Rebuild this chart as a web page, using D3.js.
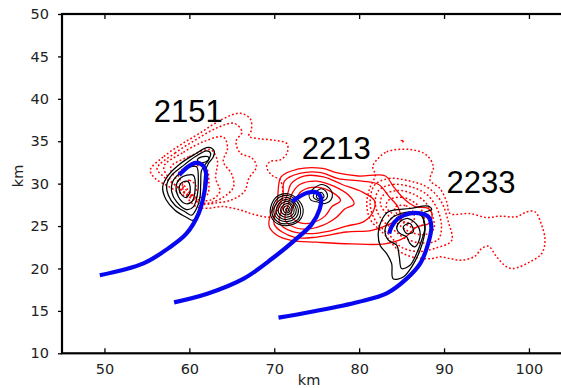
<!DOCTYPE html>
<html>
<head>
<meta charset="utf-8">
<script src="https://cdn.jsdelivr.net/npm/d3@7"></script>
<style>
  body { margin: 0; background: #fff; }
  svg { display: block; }
  .tick text { font-family: "DejaVu Sans", sans-serif; font-size: 14.5px; fill: #222; }
</style>
</head>
<body>
<div id="chart-area"></div>
<script>
// axis ticks (km)
const xTicks = [50, 60, 70, 80, 90, 100]
const yTicks = [10, 15, 20, 25, 30, 35, 40, 45, 50]

// cell labels: [name, x km, baseline y km]
const cellLabels = [
    ["2151", 55.8, 37.25],
    ["2213", 73.25, 32.95],
    ["2233", 90.3, 28.95]
]

// blue tracks (km)
const track2151 = [[49.45,19.2],[54.6,20.6],[57.55,22.4],[59.65,24.1],[61.1,26.5],[61.75,28.9],[61.97,31.2],[61.55,32.2],[60.7,32.45],[59.65,31.85],[58.8,31.0]]
const track2213 = [[58.2,16.0],[62.2,17.05],[66.4,18.8],[69.8,21.2],[72.5,23.4],[74.4,25.2],[75.35,27.0],[75.5,28.35],[75.0,28.95],[74.0,28.95],[73.0,28.5],[72.1,27.9]]
const track2233 = [[70.5,14.2],[74.4,14.9],[79.9,16.05],[83.3,17.1],[85.6,18.8],[87.2,20.6],[88.15,23.0],[88.5,24.9],[88.15,26.1],[87.2,26.5],[86.0,26.5],[84.6,25.9],[83.8,24.9],[83.55,24.1]]

// black contours (km)
const black2151 = [
    [[62.24,34.27],[62.91,33.87],[62.83,33.16],[62.24,32.38],[61.85,31.4],[61.73,30.02],[61.65,28.45],[61.34,27.07],[60.47,25.69],[59.69,26.01],[58.31,26.87],[57.25,28.13],[56.86,29.63],[57.53,31.0],[58.71,32.18],[60.47,33.36]],
    [[62.04,33.87],[62.51,33.56],[62.24,32.77],[61.45,31.59],[61.34,30.02],[61.26,28.45],[60.94,27.27],[60.28,26.28],[59.49,26.68],[58.31,27.46],[57.53,28.64],[57.33,29.82],[57.92,31.0],[59.1,31.98],[60.67,33.16]],
    [[60.86,31.98],[61.06,30.41],[60.94,28.64],[60.47,27.27],[59.69,26.95],[58.51,27.86],[57.92,29.04],[58.12,30.41],[59.1,31.4],[60.08,31.98]],
    [[60.47,31.0],[60.67,29.23],[60.28,27.86],[59.49,27.66],[58.71,28.45],[58.43,29.63],[58.9,30.61],[59.69,31.0]],
    [[59.88,30.22],[60.08,29.04],[59.61,28.37],[58.98,28.84],[58.82,29.71],[59.29,30.22]],
    [[60.94,32.77],[61.45,33.16],[62.24,33.16],[62.24,32.77],[61.45,32.46]]
]
const black2213 = [
    [[69.7,27.6],[70.5,28.6],[71.6,28.8],[72.7,28.2],[73.4,27.0],[73.0,25.7],[71.8,25.1],[70.5,25.2],[69.6,26.2]],
    [[69.9,27.5],[70.6,28.4],[71.6,28.6],[72.6,28.0],[73.1,26.9],[72.8,25.8],[71.7,25.3],[70.6,25.4],[69.8,26.3]],
    [[70.1,27.4],[70.8,28.2],[71.6,28.35],[72.4,27.8],[72.85,26.9],[72.55,26.0],[71.65,25.55],[70.75,25.65],[70.0,26.4]],
    [[70.35,27.35],[70.95,28.0],[71.6,28.1],[72.25,27.65],[72.6,26.9],[72.3,26.15],[71.6,25.8],[70.85,25.9],[70.25,26.5]],
    [[70.6,27.3],[71.1,27.8],[71.6,27.9],[72.1,27.5],[72.35,26.9],[72.1,26.3],[71.5,26.05],[70.95,26.15],[70.5,26.6]],
    [[70.85,27.2],[71.3,27.6],[71.7,27.65],[72.0,27.3],[72.1,26.85],[71.85,26.45],[71.4,26.3],[71.0,26.45],[70.75,26.8]],
    [[71.1,27.1],[71.45,27.4],[71.8,27.2],[71.85,26.8],[71.55,26.55],[71.15,26.7]],
    [[71.35,27.0],[71.6,27.1],[71.7,26.85],[71.45,26.75]],
    [[74.13,28.84],[75.58,29.9],[76.68,29.23],[76.76,28.25],[75.97,27.66],[75.0,27.86],[74.33,28.05]],
    [[74.6,28.6],[75.5,29.4],[76.17,28.96],[76.17,28.25],[75.39,27.97],[74.72,28.25]],
    [[74.99,28.64],[75.58,28.96],[75.86,28.44],[75.39,28.17],[75.03,28.33]]
]
const black2233 = [
    [[83.44,26.68],[85.99,27.07],[88.15,27.34],[88.54,26.95],[87.56,26.48],[87.76,24.51],[87.17,22.15],[86.19,20.19],[85.2,19.0],[84.0,18.8],[83.83,20.58],[83.24,21.76],[82.46,22.74],[82.26,24.3],[82.65,25.69]],
    [[84.03,26.09],[85.99,26.68],[87.36,26.17],[87.76,24.91],[87.36,23.33],[86.77,21.76],[85.99,20.38],[85.0,19.99],[84.73,21.37],[84.42,22.74],[83.44,23.33],[83.04,24.51],[83.44,25.5]],
    [[84.81,25.5],[85.79,25.89],[86.97,24.91],[87.17,23.73],[86.58,22.55],[85.99,22.94],[85.6,23.73],[84.81,24.12],[84.42,24.71]],
    [[85.2,24.91],[85.99,25.3],[86.38,24.32],[85.6,24.12]]
]

// red solid contours (km)
const redSolid2213 = [
    [[69.4,25.0],[69.6,26.5],[70.3,27.8],[70.8,30.8],[72.7,31.7],[75.7,31.8],[77.3,31.3],[79.9,30.9],[83.1,30.9],[84.0,29.7],[85.4,28.1],[86.6,27.3],[88.1,27.1],[88.6,26.4],[88.2,25.3],[86.8,24.9],[85.3,23.6],[83.0,22.9],[79.0,22.9],[75.0,23.1],[72.0,23.3],[70.2,24.0]],
    [[70.0,25.2],[70.3,27.0],[71.0,28.5],[71.2,30.3],[73.0,31.2],[75.5,31.3],[77.5,30.6],[80.3,30.3],[82.3,29.9],[83.5,28.5],[84.6,27.2],[84.8,26.0],[83.5,25.2],[81.5,24.5],[78.5,24.3],[75.0,23.7],[72.3,23.7]],
    [[70.6,25.4],[71.0,27.2],[71.6,28.9],[72.0,30.0],[73.5,30.9],[75.8,30.8],[78.0,29.9],[80.4,29.0],[81.8,28.0],[81.6,26.6],[80.5,25.5],[78.5,25.0],[76.5,24.4],[74.0,24.1],[72.0,24.4]],
    [[71.3,25.7],[71.6,27.4],[72.2,29.0],[73.0,29.9],[75.0,30.3],[77.0,29.7],[78.8,28.6],[79.4,27.6],[78.3,27.0],[77.3,26.0],[76.2,25.3],[74.3,24.7],[72.5,24.8]],
    [[72.0,26.2],[72.4,27.8],[73.2,29.1],[75.0,29.6],[76.8,29.0],[77.8,28.0],[76.8,27.3],[76.0,26.2],[74.5,25.4],[73.0,25.4]]
]

// red dotted contours (km)
const redDotted2151 = [
    [[55.4,31.6],[57.0,33.2],[59.0,34.6],[61.3,36.0],[63.9,37.6],[66.0,38.3],[67.2,37.6],[67.3,36.3],[67.0,35.6],[68.3,35.3],[70.1,35.1],[71.5,34.7],[71.5,33.6],[70.7,32.8],[69.5,32.6],[69.1,32.0],[69.7,31.0],[70.7,30.4],[71.0,28.5],[70.5,27.0],[69.8,26.1],[67.5,26.4],[66.0,26.9],[63.9,27.3],[62.2,27.1],[60.8,27.3],[59.5,28.5],[57.5,29.7],[56.0,30.6]],
    [[56.2,31.8],[58.3,33.6],[60.8,35.2],[63.3,36.6],[65.3,37.1],[66.2,36.1],[65.5,35.0],[66.0,33.6],[67.4,33.0],[67.9,32.0],[67.0,30.6],[66.5,29.1],[65.0,28.1],[63.0,27.7],[61.5,27.6],[60.0,28.6],[58.4,29.8],[57.0,30.8]],
    [[57.0,32.0],[59.3,33.7],[61.8,35.0],[64.0,35.5],[64.5,34.2],[64.0,32.6],[65.0,31.1],[65.2,29.6],[64.0,28.4],[62.2,27.7],[60.8,27.9],[59.4,28.9],[57.9,30.3]],
    [[57.8,31.9],[60.0,33.2],[62.5,34.0],[63.3,32.7],[63.1,30.6],[63.6,29.1],[62.6,28.1],[61.1,28.1],[59.8,29.1],[58.5,30.5]],
    [[58.7,31.2],[60.4,32.1],[62.0,31.8],[62.3,30.2],[62.1,28.7],[60.9,28.4],[59.8,29.3]],
    [[59.2,29.9],[60.0,30.4],[60.8,29.7],[60.6,28.8],[59.6,28.7]]
]
const redDotted2233 = [
    [[82.06,32.77],[83.24,33.75],[85.99,34.03],[87.95,33.36],[88.74,31.98],[88.35,30.41],[89.52,29.43],[90.31,27.86],[90.7,26.48],[93.06,26.48],[95.02,26.01],[96.59,26.17],[98.55,26.09],[99.73,26.68],[100.71,26.68],[101.5,25.1],[101.89,23.33],[101.5,21.76],[100.12,20.78],[98.16,19.99],[97.38,20.19],[96.2,21.37],[95.22,22.63],[94.43,22.35],[93.65,21.45],[92.07,20.97],[90.7,21.17],[89.52,21.37],[88.54,21.17],[86.5,21.3],[84.8,22.0],[83.0,24.0],[81.3,25.8],[80.9,27.8],[81.3,29.6],[81.9,31.0],[81.6,32.0]],
    [[81.8,29.8],[83.5,30.6],[86.0,30.3],[88.0,29.6],[89.6,28.0],[90.5,25.5],[90.9,23.3],[89.0,22.4],[87.0,22.0],[85.0,22.5],[83.5,24.0],[82.0,25.5],[81.3,27.5]],
    [[82.3,29.2],[84.0,29.9],[86.2,29.6],[88.0,28.7],[89.2,27.0],[89.7,25.0],[89.3,23.4],[87.5,23.0],[85.5,23.5],[84.0,24.6],[82.5,26.0],[81.9,27.7]],
    [[82.8,28.6],[84.5,29.2],[86.3,28.8],[87.8,27.8],[88.6,26.3],[88.8,24.7],[87.8,24.0],[86.0,24.3],[84.5,25.3],[83.2,26.5],[82.5,27.6]],
    [[83.4,28.0],[85.0,28.4],[86.5,27.8],[87.5,26.6],[87.6,25.3],[86.5,24.8],[85.2,25.4],[84.0,26.4],[83.2,27.2]],
    [[84.2,27.2],[85.5,27.4],[86.4,26.6],[86.4,25.6],[85.5,25.4],[84.6,26.2]],
    [[84.95,35.05],[85.15,35.05],[85.15,34.9],[84.95,34.9]]
]

const margin = { left: 62, top: 14 }
const W = 561, H = 388
const width = 8.49 * 60
const height = 339.3

const svg = d3.select("#chart-area").append("svg")
    .attr("width", W)
    .attr("height", H)

const x = d3.scaleLinear().domain([45, 105]).range([margin.left, margin.left + width])
const y = d3.scaleLinear().domain([10, 50]).range([margin.top + height, margin.top])

const closed = d3.line().x(d => x(d[0])).y(d => y(d[1])).curve(d3.curveCatmullRomClosed.alpha(0.5))
const open = d3.line().x(d => x(d[0])).y(d => y(d[1])).curve(d3.curveCatmullRom.alpha(0.5))

const plot = svg.append("g")

function drawRings(rings, color, width, dash) {
    plot.append("g").selectAll("path").data(rings).enter()
        .append("path")
        .attr("d", closed)
        .attr("fill", "none")
        .attr("stroke", color)
        .attr("stroke-width", width)
        .attr("stroke-dasharray", dash)
}

drawRings(redDotted2151, "#ff0000", 1.5, "1.8,2.2")
drawRings(redDotted2233, "#ff0000", 1.5, "1.8,2.2")
drawRings(redSolid2213, "#ff0000", 1.3, null)
drawRings(black2151, "#000", 1.25, null)
drawRings(black2213, "#000", 1.1, null)
drawRings(black2233, "#000", 1.25, null)

plot.append("g").selectAll("path").data([track2151, track2213, track2233]).enter()
    .append("path")
    .attr("d", open)
    .attr("fill", "none")
    .attr("stroke", "#0808f0")
    .attr("stroke-width", 4.2)
    .attr("stroke-linecap", "butt")

svg.append("g").selectAll("text").data(cellLabels).enter()
    .append("text")
    .attr("x", d => x(d[1]))
    .attr("y", d => y(d[2]))
    .attr("font-family", "Liberation Sans, Arial, sans-serif")
    .attr("font-size", "31px")
    .attr("fill", "#000")
    .text(d => d[0])

// axes
const xAxisCall = d3.axisBottom(x).tickValues(xTicks).tickSize(-5).tickPadding(10)
svg.append("g")
    .attr("class", "x axis")
    .attr("transform", `translate(0, ${y(10)})`)
    .call(xAxisCall)
    .call(g => g.select(".domain").remove())

const xTopCall = d3.axisTop(x).tickValues(xTicks).tickSize(-5).tickFormat("")
svg.append("g")
    .attr("transform", `translate(0, ${y(50)})`)
    .call(xTopCall)
    .call(g => g.select(".domain").remove())

const yAxisCall = d3.axisLeft(y).tickValues(yTicks).tickSize(4).tickPadding(9)
svg.append("g")
    .attr("class", "y axis")
    .attr("transform", `translate(${x(45)}, 0)`)
    .call(yAxisCall)
    .call(g => g.select(".domain").remove())

svg.selectAll(".tick line").attr("stroke", "#000").attr("stroke-width", 1.3)

svg.append("rect")
    .attr("x", x(45))
    .attr("y", y(50))
    .attr("width", x(105) - x(45))
    .attr("height", y(10) - y(50))
    .attr("fill", "none")
    .attr("stroke", "#000")
    .attr("stroke-width", 2.2)

svg.append("text")
    .attr("x", 309)
    .attr("y", 385)
    .attr("text-anchor", "middle")
    .attr("font-family", "DejaVu Sans, sans-serif")
    .attr("font-size", "14.5px")
    .attr("fill", "#222")
    .text("km")

svg.append("text")
    .attr("transform", "translate(23, 176) rotate(-90)")
    .attr("text-anchor", "middle")
    .attr("font-family", "DejaVu Sans, sans-serif")
    .attr("font-size", "14.5px")
    .attr("fill", "#222")
    .text("km")
</script>
</body>
</html>
